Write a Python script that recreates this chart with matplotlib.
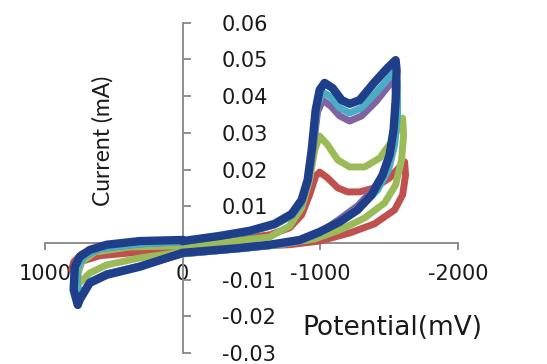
import matplotlib
matplotlib.use("Agg")
import matplotlib.pyplot as plt

# cyclic voltammograms, potential in mV, current in mA
# each loop: forward scan (to negative), return scan, back to start
red_mv = [0, -341, -632, -777, -864, -922, -966, -995, -1053, -1126, -1198, -1285, -1394, -1503, -1576, -1612,
          -1619, -1598, -1540, -1394, -1213, -995, -777, -414, 0, 312, 603, 748, 806,
          792, 733, 603, 312, 0]
red_ma = [-0.0003, 0.0008, 0.0022, 0.0041, 0.0076, 0.0131, 0.0182, 0.0193, 0.0177, 0.0150, 0.0139, 0.0139, 0.0150, 0.0177, 0.0207, 0.0221,
          0.0185, 0.0131, 0.0090, 0.0052, 0.0027, 0.0005, -0.0005, -0.0011, -0.0016, -0.0025, -0.0035, -0.0052, -0.0074,
          -0.0052, -0.0030, -0.0014, -0.0005, -0.0003]

green_mv = [0, -341, -632, -777, -864, -922, -959, -995, -1053, -1126, -1213, -1322, -1431, -1525, -1576, -1598,
            -1605, -1590, -1547, -1467, -1322, -1140, -959, -704, -341, 0, 312, 552, 675, 748,
            762, 733, 639, 385, 0]
green_ma = [-0.0008, 0.0003, 0.0016, 0.0046, 0.0095, 0.0172, 0.0253, 0.0291, 0.0267, 0.0226, 0.0207, 0.0207, 0.0231, 0.0280, 0.0321, 0.0340,
            0.0294, 0.0226, 0.0158, 0.0109, 0.0068, 0.0035, 0.0011, -0.0005, -0.0016, -0.0025, -0.0041, -0.0060, -0.0082, -0.0109,
            -0.0087, -0.0052, -0.0025, -0.0011, -0.0008]

purple_mv = [0, -487, -668, -792, -864, -915, -951, -980, -1017, -1075, -1140, -1213, -1300, -1409, -1496, -1540,
             -1547, -1540, -1518, -1467, -1380, -1271, -1140, -995, -850, -632, -414, 0, 312, 552, 675, 733,
             770, 762, 712, 603, 312, 0]
purple_ma = [0.0003, 0.0030, 0.0049, 0.0074, 0.0109, 0.0172, 0.0267, 0.0357, 0.0389, 0.0373, 0.0346, 0.0332, 0.0346, 0.0387, 0.0428, 0.0447,
             0.0403, 0.0321, 0.0253, 0.0193, 0.0144, 0.0101, 0.0065, 0.0027, 0.0005, -0.0008, -0.0016, -0.0030, -0.0063, -0.0084, -0.0106, -0.0142,
             -0.0114, -0.0063, -0.0035, -0.0016, -0.0003, 0.0003]

cyan_mv = [0, -487, -668, -792, -864, -915, -951, -980, -1017, -1075, -1140, -1213, -1300, -1409, -1496, -1547,
           -1561, -1561, -1540, -1496, -1416, -1300, -1155, -995, -850, -632, -414, 0, 312, 552, 675, 733,
           770, 762, 712, 603, 312, 0]
cyan_ma = [0.0003, 0.0030, 0.0049, 0.0074, 0.0109, 0.0172, 0.0281, 0.0376, 0.0411, 0.0398, 0.0368, 0.0354, 0.0368, 0.0411, 0.0449, 0.0471,
           0.0430, 0.0349, 0.0267, 0.0199, 0.0144, 0.0101, 0.0063, 0.0027, 0.0005, -0.0008, -0.0016, -0.0030, -0.0063, -0.0084, -0.0106, -0.0142,
           -0.0114, -0.0063, -0.0035, -0.0016, -0.0003, 0.0003]

navy_mv = [0, -269, -487, -668, -792, -864, -908, -937, -966, -995, -1031, -1089, -1155, -1213, -1285, -1394, -1489, -1547,
           -1554, -1547, -1532, -1503, -1452, -1373, -1271, -1140, -995, -850, -632, -414, 0, 312, 552, 675, 748, 762,
           792, 784, 748, 675, 552, 312, 0]
navy_ma = [0.0005, 0.0019, 0.0033, 0.0052, 0.0079, 0.0117, 0.0172, 0.0253, 0.0362, 0.0417, 0.0436, 0.0422, 0.0389, 0.0379, 0.0389, 0.0438, 0.0477, 0.0498,
           0.0471, 0.0389, 0.0308, 0.0240, 0.0185, 0.0131, 0.0090, 0.0057, 0.0030, 0.0008, -0.0005, -0.0014, -0.0027, -0.0065, -0.0087, -0.0109, -0.0155, -0.0169,
           -0.0128, -0.0065, -0.0038, -0.0019, -0.0005, 0.0005, 0.0008]

x_ticks = [1000, 0, -1000, -2000]
x_labels = ["1000", "0", "-1000", "-2000"]
y_ticks = [-0.03, -0.02, -0.01, 0, 0.01, 0.02, 0.03, 0.04, 0.05, 0.06]
y_labels = ["-0.03", "-0.02", "-0.01", "0", "0.01", "0.02", "0.03", "0.04", "0.05", "0.06"]

series = [
    (red_mv, red_ma, "#c0504d", 5),
    (green_mv, green_ma, "#9bbb59", 5),
    (purple_mv, purple_ma, "#8064a2", 5),
    (cyan_mv, cyan_ma, "#4bacc6", 5),
    (navy_mv, navy_ma, "#1f3f8a", 6),
]

fig = plt.figure(figsize=(5.47, 3.64), dpi=100)
ax = fig.add_axes([45 / 547, 11 / 364, 413 / 547, 330.3 / 364])

for mv, ma, col, lw in series:
    ax.plot(mv, ma, color=col, lw=lw, solid_joinstyle="round", solid_capstyle="round", zorder=3, clip_on=False)

ax.set_xlim(1000, -2000)
ax.set_ylim(-0.03, 0.06)

for s in ["top", "left"]:
    ax.spines[s].set_visible(False)
ax.spines["bottom"].set_position(("data", 0))
ax.spines["right"].set_position(("data", 0))
for s in ["bottom", "right"]:
    ax.spines[s].set_color("#868686")
    ax.spines[s].set_linewidth(1.3)

ax.yaxis.tick_right()
ax.set_xticks(x_ticks)
ax.set_xticklabels(x_labels)
ax.set_yticks(y_ticks)
ax.set_yticklabels(y_labels)
ax.tick_params(axis="x", direction="out", length=5, width=1.3, color="#868686", pad=10,
               labelsize=15, labelcolor="#1a1a1a")
ax.tick_params(axis="y", direction="out", length=6, width=1.3, color="#868686", pad=22,
               labelsize=15, labelcolor="#1a1a1a")
for lab in ax.get_yticklabels():
    lab.set_horizontalalignment("left")

fig.text(103 / 547, 1 - 141 / 364, "Current (mA)", rotation=90, ha="center", va="center",
         fontsize=16.5, family="Lato", color="#1a1a1a")
fig.text(302 / 547, 1 - 328 / 364, "Potential(mV)", ha="left", va="center",
         fontsize=19, family="DejaVu Sans", color="#1a1a1a")

fig.savefig("out.png", dpi=100)
